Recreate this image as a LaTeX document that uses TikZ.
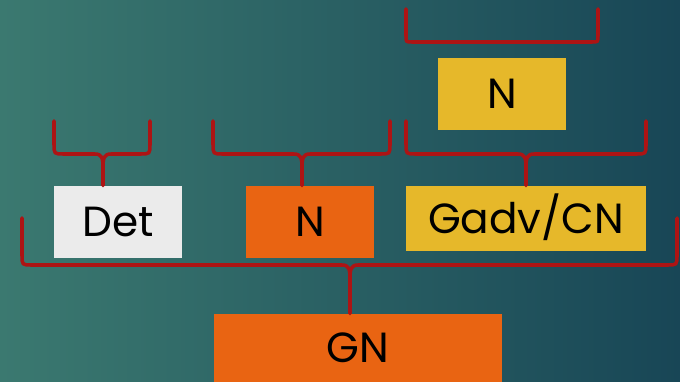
\documentclass[tikz,border=0pt]{standalone}
\usepackage{fontspec}
\setmainfont{Poppins}
\usepackage{tikz}

\definecolor{bgleft}{RGB}{59,121,112}
\definecolor{bgright}{RGB}{24,70,86}
\definecolor{braceRed}{RGB}{173,20,20}
\definecolor{catOrange}{RGB}{233,100,18}
\definecolor{catYellow}{RGB}{230,184,42}
\definecolor{catGray}{RGB}{235,235,235}

% brace pointing down: left x, right x, top y, bar y, tip x, node below
\newcommand{\synbrace}[6]{%
  \draw[brace] (#1,#3) -- (#1,#4-10) .. controls (#1,#4) .. (#1+10,#4) -- (#5-8,#4)
    .. controls (#5-1,#4) and (#5,#4+4) .. (#5,#4+14) -- (#5,#4+14 |- #6.north);
  \draw[brace] (#2,#3) -- (#2,#4-10) .. controls (#2,#4) .. (#2-10,#4) -- (#5+8,#4)
    .. controls (#5+1,#4) and (#5,#4+4) .. (#5,#4+14);
}

\begin{document}
\begin{tikzpicture}[x=0.02cm,y=-0.02cm,
    cat/.style={rectangle,inner sep=0pt,minimum width=2.56cm,minimum height=1.44cm,
      text height=17pt,text depth=0pt,font=\fontsize{24}{28}\selectfont},
    brace/.style={draw=braceRed,line width=2pt,line cap=round,line join=round}]

  \shade[left color=bgleft,right color=bgright] (0,0) rectangle (680,382);
  \useasboundingbox (0,0) rectangle (680,382);

  \node[cat,fill=catGray] (det) at (118,222) {Det};
  \node[cat,fill=catOrange] (nn) at (310,222) {N};
  \node[cat,fill=catYellow,minimum width=4.8cm,minimum height=1.3cm] (gadv) at (526,218.5) {Gadv/CN};
  \node[cat,fill=catYellow] (ntop) at (502,94) {N};
  \node[cat,fill=catOrange,minimum width=5.76cm,minimum height=1.36cm] (gn) at (358,348) {GN};

  \draw[brace] (406,9) -- (406,36) .. controls (406,42) .. (412,42) -- (592,42)
    .. controls (598,42) .. (598,36) -- (598,9);
  \synbrace{54}{150}{121}{154}{103}{det}
  \synbrace{213}{390}{121}{154}{302}{nn}
  \synbrace{406}{646}{121}{154}{526}{gadv}
  \synbrace{22}{677}{218}{265}{350}{gn}
\end{tikzpicture}
\end{document}
